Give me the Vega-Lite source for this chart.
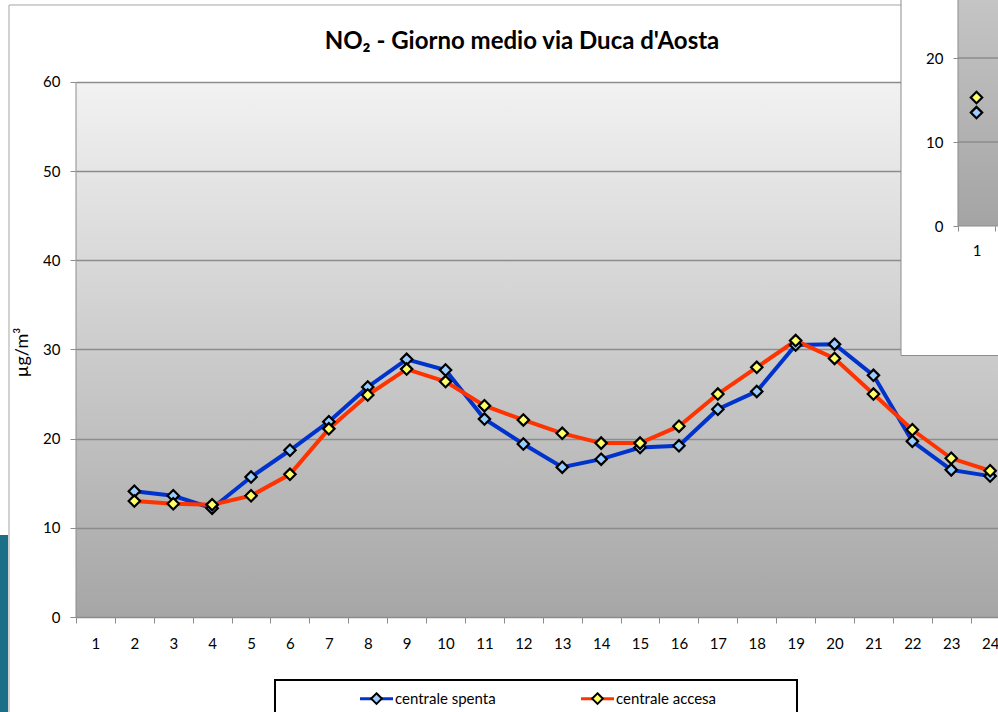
{
  "$schema": "https://vega.github.io/schema/vega-lite/v6.json",
  "width": 922,
  "height": 617,
  "autosize": {"type": "none"},
  "padding": {"left": 76, "top": 0, "right": 0, "bottom": 95},
  "background": "#ffffff",
  "title": {"text": "NO₂ - Giorno medio via Duca d'Aosta", "font": "Lato", "fontSize": 24, "fontWeight": "bold", "color": "#000000", "anchor": "middle", "frame": "group", "baseline": "alphabetic", "offset": -76, "dx": -15},
  "datasets": {
    "main": [
      {"hour": 2, "series": "centrale spenta", "value": 14.1},
      {"hour": 3, "series": "centrale spenta", "value": 13.6},
      {"hour": 4, "series": "centrale spenta", "value": 12.2},
      {"hour": 5, "series": "centrale spenta", "value": 15.7},
      {"hour": 6, "series": "centrale spenta", "value": 18.7},
      {"hour": 7, "series": "centrale spenta", "value": 21.9},
      {"hour": 8, "series": "centrale spenta", "value": 25.8},
      {"hour": 9, "series": "centrale spenta", "value": 28.9},
      {"hour": 10, "series": "centrale spenta", "value": 27.7},
      {"hour": 11, "series": "centrale spenta", "value": 22.2},
      {"hour": 12, "series": "centrale spenta", "value": 19.4},
      {"hour": 13, "series": "centrale spenta", "value": 16.8},
      {"hour": 14, "series": "centrale spenta", "value": 17.7},
      {"hour": 15, "series": "centrale spenta", "value": 19.0},
      {"hour": 16, "series": "centrale spenta", "value": 19.2},
      {"hour": 17, "series": "centrale spenta", "value": 23.3},
      {"hour": 18, "series": "centrale spenta", "value": 25.3},
      {"hour": 19, "series": "centrale spenta", "value": 30.5},
      {"hour": 20, "series": "centrale spenta", "value": 30.6},
      {"hour": 21, "series": "centrale spenta", "value": 27.1},
      {"hour": 22, "series": "centrale spenta", "value": 19.7},
      {"hour": 23, "series": "centrale spenta", "value": 16.5},
      {"hour": 24, "series": "centrale spenta", "value": 15.8},
      {"hour": 2, "series": "centrale accesa", "value": 13.0},
      {"hour": 3, "series": "centrale accesa", "value": 12.7},
      {"hour": 4, "series": "centrale accesa", "value": 12.6},
      {"hour": 5, "series": "centrale accesa", "value": 13.6},
      {"hour": 6, "series": "centrale accesa", "value": 16.0},
      {"hour": 7, "series": "centrale accesa", "value": 21.1},
      {"hour": 8, "series": "centrale accesa", "value": 24.9},
      {"hour": 9, "series": "centrale accesa", "value": 27.8},
      {"hour": 10, "series": "centrale accesa", "value": 26.4},
      {"hour": 11, "series": "centrale accesa", "value": 23.7},
      {"hour": 12, "series": "centrale accesa", "value": 22.1},
      {"hour": 13, "series": "centrale accesa", "value": 20.6},
      {"hour": 14, "series": "centrale accesa", "value": 19.5},
      {"hour": 15, "series": "centrale accesa", "value": 19.5},
      {"hour": 16, "series": "centrale accesa", "value": 21.4},
      {"hour": 17, "series": "centrale accesa", "value": 25.0},
      {"hour": 18, "series": "centrale accesa", "value": 28.0},
      {"hour": 19, "series": "centrale accesa", "value": 31.0},
      {"hour": 20, "series": "centrale accesa", "value": 29.0},
      {"hour": 21, "series": "centrale accesa", "value": 25.0},
      {"hour": 22, "series": "centrale accesa", "value": 21.0},
      {"hour": 23, "series": "centrale accesa", "value": 17.8},
      {"hour": 24, "series": "centrale accesa", "value": 16.4}
    ],
    "inset": [
      {"hour": 1, "series": "centrale spenta", "value": 13.5},
      {"hour": 1, "series": "centrale accesa", "value": 15.3}
    ]
  },
  "layer": [
    {
      "data": {"name": "main"},
      "layer": [
        {
          "data": {"values": [{}]},
          "mark": {"type": "rect", "color": "#1b6f86"},
          "encoding": {
            "x": {"datum": -1.4537},
            "x2": {"datum": -1.248},
            "y": {"datum": 9.196},
            "y2": {"datum": -40}
          }
        },
        {
          "data": {"values": [{}]},
          "mark": {"type": "rect", "fill": "transparent", "stroke": "#a6a6a6", "strokeWidth": 1},
          "encoding": {
            "x": {"datum": -1.2224},
            "x2": {"datum": 40},
            "y": {"datum": 68.636},
            "y2": {"datum": -40}
          }
        },
        {
          "data": {"values": [{}]},
          "mark": {"type": "rect", "fill": "#ffffff", "stroke": "#000000", "strokeWidth": 2},
          "encoding": {
            "x": {"datum": 5.6157},
            "x2": {"datum": 19.0347},
            "y": {"datum": -7.065},
            "y2": {"datum": -40}
          }
        },
        {
          "data": {"values": [{}]},
          "mark": {"type": "rule", "color": "#8c8c8c", "strokeWidth": 1},
          "encoding": {
            "x": {"datum": 0.5},
            "y": {"datum": 0},
            "y2": {"datum": 60}
          }
        },
        {
          "mark": {"type": "line", "strokeWidth": 4},
          "encoding": {
            "x": {
              "field": "hour", "type": "quantitative",
              "scale": {"domain": [0.5, 24.2018], "nice": false, "zero": false},
              "axis": {
                "orient": "bottom",
                "values": [0.5, 1, 1.5, 2, 2.5, 3, 3.5, 4, 4.5, 5, 5.5, 6, 6.5, 7, 7.5, 8, 8.5, 9, 9.5, 10, 10.5, 11, 11.5, 12, 12.5, 13, 13.5, 14, 14.5, 15, 15.5, 16, 16.5, 17, 17.5, 18, 18.5, 19, 19.5, 20, 20.5, 21, 21.5, 22, 22.5, 23, 23.5, 24],
                "tickCount": 100,
                "title": null, "grid": false,
                "domain": true, "domainColor": "#8c8c8c", "domainWidth": 1,
                "ticks": true, "tickSize": 6, "tickColor": "#8c8c8c", "tickWidth": 1,
                "tickOpacity": {"condition": {"test": "datum.value % 1 === 0", "value": 0}, "value": 1},
                "labelExpr": "datum.value % 1 === 0 ? '' + datum.value : ''",
                "labelBaseline": "alphabetic", "labelPadding": 25,
                "labelFlush": false, "labelOverlap": false, "labelBound": false,
                "zindex": 0
              }
            },
            "y": {
              "field": "value", "type": "quantitative",
              "scale": {"domain": [0, 69.196], "nice": false, "zero": false},
              "axis": {
                "orient": "left",
                "values": [0, 10, 20, 30, 40, 50, 60],
                "format": "d",
                "title": "µg/m³", "titleFont": "Lato", "titleFontSize": 18, "titleFontWeight": "normal", "titleColor": "#000000",
                "titleAngle": -90, "titleX": -49, "titleY": 352, "titleAlign": "center", "titleBaseline": "alphabetic",
                "grid": true, "gridColor": "#8c8c8c", "gridWidth": 1.5,
                "domain": false, "tickSize": 6, "tickColor": "#8c8c8c",
                "labelPadding": 10, "labelOverlap": false, "labelFlush": false,
                "zindex": 0
              }
            },
            "stroke": {
              "field": "series", "type": "nominal",
              "scale": {"domain": ["centrale spenta", "centrale accesa"], "range": ["#0033cc", "#ff3300"]},
              "legend": {
                "orient": "none", "legendX": 199, "legendY": 680, "direction": "horizontal", "title": null,
                "padding": 10, "strokeColor": null, "fillColor": null,
                "symbolType": "M-2.357,0L-0.6,0M0.6,0L2.357,0", "symbolSize": 196, "symbolStrokeWidth": 3,
                "symbolOffset": 83, "labelOffset": 10, "columnPadding": 10,
                "labelFont": "Lato", "labelFontSize": 15, "labelColor": "#000000"
              }
            }
          }
        },
        {
          "mark": {"type": "point", "shape": "diamond", "filled": true, "size": 130, "stroke": "#000000", "strokeWidth": 2.2, "opacity": 1},
          "encoding": {
            "x": {"field": "hour", "type": "quantitative"},
            "y": {"field": "value", "type": "quantitative"},
            "fill": {
              "field": "series", "type": "nominal",
              "sort": ["centrale spenta", "centrale accesa"],
              "scale": {"range": ["#99ccff", "#ffff66"]},
              "legend": {
                "orient": "none", "legendX": 199, "legendY": 680, "direction": "horizontal", "title": null,
                "padding": 10, "strokeColor": null, "fillColor": null,
                "symbolType": "M0,-0.707L0.707,0L0,0.707L-0.707,0Z", "symbolSize": 225, "symbolStrokeWidth": 2, "symbolStrokeColor": "#000000",
                "symbolOffset": 83, "labelOffset": 10, "columnPadding": 10,
                "labelFont": "Lato", "labelFontSize": 15, "labelColor": "#000000", "labelOpacity": 0
              }
            }
          }
        }
      ]
    },
    {
      "data": {"name": "inset"},
      "layer": [
        {
          "data": {"values": [{}]},
          "mark": {"type": "rect", "fill": "#ffffff", "stroke": "#8c8c8c", "strokeWidth": 1},
          "encoding": {
            "x": {"datum": -1.0405},
            "x2": {"datum": 3},
            "y": {"datum": -15.417},
            "y2": {"datum": 27.2}
          }
        },
        {
          "data": {"values": [{}]},
          "mark": {"type": "rect", "fill": {"gradient": "linear", "x1": 0, "y1": 0, "x2": 0, "y2": 1, "stops": [{"offset": 0, "color": "#c5c5c5"}, {"offset": 1, "color": "#a4a4a4"}]}},
          "encoding": {
            "x": {"datum": 0.5},
            "x2": {"datum": 3},
            "y": {"datum": 0},
            "y2": {"datum": 27.2}
          }
        },
        {
          "data": {"values": [{}]},
          "mark": {"type": "rule", "color": "#8c8c8c", "strokeWidth": 1.5},
          "encoding": {"x": {"datum": 0.5}, "x2": {"datum": 3}, "y": {"datum": 10}}
        },
        {
          "data": {"values": [{}]},
          "mark": {"type": "rule", "color": "#8c8c8c", "strokeWidth": 1.5},
          "encoding": {"x": {"datum": 0.5}, "x2": {"datum": 3}, "y": {"datum": 20}}
        },
        {
          "data": {"values": [{}]},
          "mark": {"type": "rule", "color": "#8c8c8c", "strokeWidth": 1},
          "encoding": {"x": {"datum": 0.5}, "y": {"datum": 0}, "y2": {"datum": 27.2}}
        },
        {
          "data": {"values": [{}]},
          "mark": {"type": "rule", "color": "#8c8c8c", "strokeWidth": 1},
          "encoding": {"x": {"datum": 0.5}, "x2": {"datum": 3}, "y": {"datum": 0}}
        },
        {
          "mark": {"type": "point", "shape": "diamond", "filled": true, "size": 130, "stroke": "#000000", "strokeWidth": 2.2, "opacity": 1},
          "encoding": {
            "x": {
              "field": "hour", "type": "quantitative",
              "scale": {"domain": [-23.3378, 1.5811], "nice": false, "zero": false},
              "axis": {
                "orient": "bottom", "offset": -391, "values": [0.5, 1, 1.5], "tickCount": 100, "title": null,
                "grid": false, "domain": false, "tickSize": 5, "tickColor": "#8c8c8c",
                "tickOpacity": {"condition": {"test": "datum.value === 1", "value": 0}, "value": 1},
                "labelExpr": "datum.value === 1 ? '1' : ''",
                "labelBaseline": "alphabetic", "labelPadding": 24,
                "labelFlush": false, "labelOverlap": false, "labelBound": false, "zindex": 1
              }
            },
            "y": {
              "field": "value", "type": "quantitative",
              "scale": {"domain": [-46.548, 26.905], "nice": false, "zero": false},
              "axis": {
                "orient": "left", "offset": -882, "values": [0, 10, 20], "format": "d", "title": null,
                "grid": false, "domain": false, "tickSize": 5, "tickColor": "#8c8c8c",
                "labelPadding": 10, "labelOverlap": false, "zindex": 1
              }
            },
            "fill": {
              "field": "series", "type": "nominal",
              "scale": {"domain": ["centrale spenta", "centrale accesa"], "range": ["#99ccff", "#ffff66"]},
              "legend": null
            }
          }
        }
      ]
    }
  ],
  "resolve": {"scale": {"x": "independent", "y": "independent", "fill": "independent"}},
  "config": {
    "font": "Lato",
    "view": {"stroke": null, "fill": {"gradient": "linear", "x1": 0, "y1": 0, "x2": 0, "y2": 1, "stops": [{"offset": 0, "color": "#ffffff"}, {"offset": 0.1329, "color": "#ffffff"}, {"offset": 0.1329, "color": "#f2f2f2"}, {"offset": 1, "color": "#a6a6a6"}]}},
    "axis": {"labelFont": "Lato", "labelFontSize": 15, "labelColor": "#000000", "titleFont": "Lato", "titleColor": "#000000"}
  }
}
